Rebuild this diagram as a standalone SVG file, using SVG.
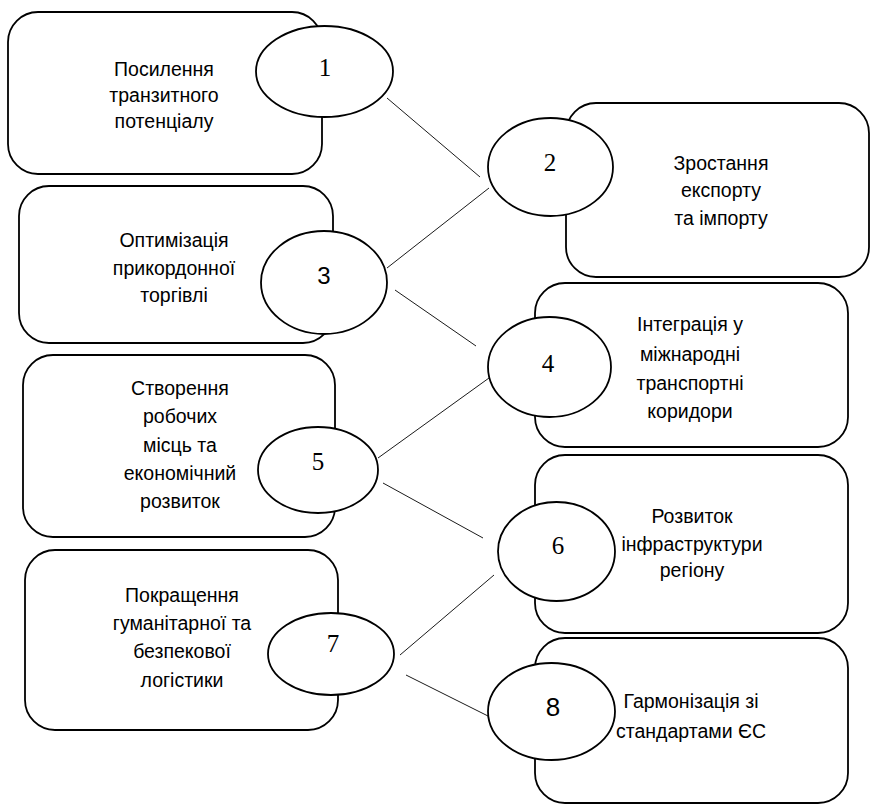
<svg xmlns="http://www.w3.org/2000/svg" width="871" height="805" viewBox="0 0 871 805">
<style>
.box{fill:#fff;stroke:#000;stroke-width:1.8}
.ell{fill:#fff;stroke:#000;stroke-width:1.8}
.conn line{stroke:#000;stroke-width:0.9}
.t{font-family:"Liberation Sans","Open Sans",sans-serif;font-size:19.5px;text-anchor:middle;fill:#000}
.n{font-family:"Liberation Serif","DejaVu Serif",serif;font-size:25px;text-anchor:middle;fill:#000}
.ns{font-family:"Liberation Sans","DejaVu Sans",sans-serif;font-size:26px;text-anchor:middle;fill:#000}
</style>
<rect width="871" height="805" fill="#fff"/>
<g id="box1"><rect class="box" x="8" y="12" width="314" height="162" rx="30"/>
<text class="t"><tspan x="164" y="76">Посилення</tspan><tspan x="164" y="102">транзитного</tspan><tspan x="164" y="128">потенціалу</tspan></text></g>
<g id="box2"><rect class="box" x="566" y="103" width="303" height="174" rx="30"/>
<text class="t"><tspan x="721" y="170">Зростання</tspan><tspan x="721" y="197">експорту</tspan><tspan x="721" y="225">та імпорту</tspan></text></g>
<g id="box3"><rect class="box" x="19" y="186" width="314" height="157" rx="30"/>
<text class="t"><tspan x="174" y="247">Оптимізація</tspan><tspan x="174" y="275">прикордонної</tspan><tspan x="174" y="302">торгівлі</tspan></text></g>
<g id="box4"><rect class="box" x="535" y="283" width="313" height="164" rx="30"/>
<text class="t"><tspan x="690" y="331">Інтеграція у</tspan><tspan x="690" y="361">міжнародні</tspan><tspan x="690" y="390">транспортні</tspan><tspan x="690" y="418">коридори</tspan></text></g>
<g id="box5"><rect class="box" x="23" y="355" width="312" height="182" rx="30"/>
<text class="t"><tspan x="180" y="395">Створення</tspan><tspan x="180" y="423">робочих</tspan><tspan x="180" y="452">місць та</tspan><tspan x="180" y="480">економічний</tspan><tspan x="180" y="508">розвиток</tspan></text></g>
<g id="box6"><rect class="box" x="535" y="455" width="313" height="178" rx="30"/>
<text class="t"><tspan x="692" y="523">Розвиток</tspan><tspan x="692" y="551">інфраструктури</tspan><tspan x="692" y="577">регіону</tspan></text></g>
<g id="box7"><rect class="box" x="25" y="550" width="313" height="180" rx="30"/>
<text class="t"><tspan x="182" y="602">Покращення</tspan><tspan x="182" y="630">гуманітарної та</tspan><tspan x="182" y="658">безпекової</tspan><tspan x="182" y="687">логістики</tspan></text></g>
<g id="box8"><rect class="box" x="535" y="638" width="313" height="165" rx="30"/>
<text class="t"><tspan x="691" y="708">Гармонізація зі</tspan><tspan x="691" y="738">стандартами ЄС</tspan></text></g>
<g class="conn" id="connectors">
<line x1="387" y1="98" x2="480" y2="177"/>
<line x1="387" y1="268" x2="489" y2="188"/>
<line x1="395" y1="290" x2="476" y2="346"/>
<line x1="378" y1="458" x2="489" y2="378"/>
<line x1="383" y1="483" x2="483" y2="538"/>
<line x1="400" y1="655" x2="494" y2="575"/>
<line x1="406" y1="675" x2="492" y2="718"/>
</g>
<g id="n1"><ellipse class="ell" cx="324.5" cy="71.5" rx="68.5" ry="45.5"/><text class="n" x="325" y="76">1</text></g>
<g id="n2"><ellipse class="ell" cx="550.5" cy="167" rx="62.5" ry="49"/><text class="n" x="550" y="171">2</text></g>
<g id="n3"><ellipse class="ell" cx="324" cy="282.5" rx="63" ry="51.5"/><text class="ns" x="324" y="284" style="font-size:24px">3</text></g>
<g id="n4"><ellipse class="ell" cx="549.5" cy="367" rx="61.5" ry="50"/><text class="n" x="548" y="372">4</text></g>
<g id="n5"><ellipse class="ell" cx="318" cy="470" rx="60" ry="43"/><text class="n" x="318" y="470">5</text></g>
<g id="n6"><ellipse class="ell" cx="556.5" cy="551.5" rx="58.5" ry="49.5"/><text class="n" x="558" y="554">6</text></g>
<g id="n7"><ellipse class="ell" cx="331" cy="654" rx="63" ry="41"/><text class="n" x="333" y="652">7</text></g>
<g id="n8"><ellipse class="ell" cx="551.5" cy="711.5" rx="63.5" ry="48.5"/><text class="ns" x="553" y="716">8</text></g>
</svg>
